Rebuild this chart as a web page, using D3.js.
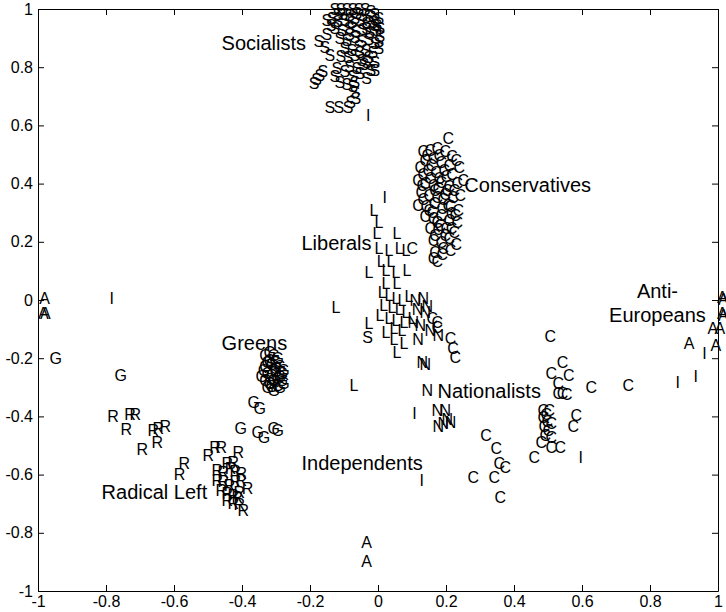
<!DOCTYPE html>
<html>
<head>
<meta charset="utf-8">
<script src="https://cdn.jsdelivr.net/npm/d3@7/dist/d3.min.js"></script>
<style>
  body { margin: 0; background: #fff; }
  svg { display: block; font-family: "Liberation Sans", Arial, sans-serif; }
  .axis path, .axis line { stroke: #000; }
  .axis text { font-size: 16px; fill: #000; font-family: "Liberation Sans", Arial, sans-serif; }
</style>
</head>
<body>
<svg width="726" height="612"></svg>
<script>
// ticks
var xTicks = [-1, -0.8, -0.6, -0.4, -0.2, 0, 0.2, 0.4, 0.6, 0.8, 1]
var xTickLabels = ["-1", "-0.8", "-0.6", "-0.4", "-0.2", "0", "0.2", "0.4", "0.6", "0.8", "1"]
var yTicks = [-1, -0.8, -0.6, -0.4, -0.2, 0, 0.2, 0.4, 0.6, 0.8, 1]
var yTickLabels = ["-1", "-0.8", "-0.6", "-0.4", "-0.2", "0", "0.2", "0.4", "0.6", "0.8", "1"]

// S = socialists
var socialists = [
  [-0.143,0.997],[-0.125,1.0],[-0.107,1.0],[-0.090,1.0],[-0.072,1.0],[-0.054,0.997],[-0.037,0.993],
  [-0.119,0.983],[-0.099,0.979],[-0.078,0.986],[-0.060,0.979],[-0.043,0.976],[-0.025,0.983],
  [-0.151,0.969],[-0.134,0.959],[-0.113,0.962],[-0.093,0.955],[-0.069,0.962],[-0.049,0.952],[-0.031,0.955],[-0.013,0.966],
  [-0.143,0.935],[-0.122,0.928],[-0.101,0.935],[-0.081,0.924],[-0.060,0.931],[-0.040,0.921],[-0.019,0.928],
  [-0.128,0.900],[-0.107,0.893],[-0.084,0.904],[-0.063,0.890],[-0.043,0.897],[-0.025,0.883],[-0.010,0.907],
  [-0.019,0.945],[-0.010,0.935],[-0.013,0.890],
  [-0.134,0.983],[-0.084,0.969],[-0.049,0.935],[-0.099,0.911],[-0.025,0.945],
  [-0.113,0.866],[-0.093,0.859],[-0.072,0.873],[-0.051,0.859],[-0.031,0.852],[-0.013,0.866],
  [-0.069,0.852],[-0.049,0.818],[-0.084,0.749],[-0.025,0.790],
  [-0.125,0.838],[-0.104,0.832],[-0.084,0.842],[-0.063,0.825],[-0.043,0.832],[-0.025,0.818],
  [-0.099,0.804],[-0.078,0.797],[-0.057,0.808],[-0.037,0.790],
  [-0.113,0.784],[-0.090,0.770],[-0.069,0.777],[-0.049,0.763],
  [-0.137,0.797],[-0.143,0.770],[-0.128,0.749],[-0.107,0.742],
  [-0.190,0.887],[-0.172,0.869],[-0.166,0.962],[-0.154,0.945],[-0.157,0.842],[-0.166,0.911],
  [-0.204,0.746],[-0.196,0.759],[-0.187,0.773],[-0.178,0.784],
  [-0.090,0.735],[-0.084,0.715],[-0.081,0.694],[-0.096,0.680],
  [-0.157,0.663],[-0.131,0.663],[-0.104,0.663],
  [-0.046,-0.127]
]

// C = conservatives
var conservatives = [
  [0.190,0.557],
  [0.116,0.509],[0.137,0.515],[0.157,0.522],[0.181,0.509],[0.201,0.495],
  [0.122,0.481],[0.146,0.488],[0.169,0.474],[0.193,0.464],[0.213,0.481],
  [0.107,0.454],[0.131,0.447],[0.154,0.440],[0.178,0.447],[0.201,0.433],[0.222,0.454],
  [0.101,0.412],[0.122,0.402],[0.146,0.395],[0.169,0.405],[0.193,0.392],[0.216,0.402],[0.234,0.412],
  [0.110,0.371],[0.134,0.361],[0.157,0.354],[0.181,0.364],[0.204,0.351],[0.225,0.361],
  [0.101,0.326],[0.125,0.320],[0.149,0.333],[0.172,0.316],[0.196,0.323],[0.219,0.309],
  [0.122,0.289],[0.146,0.282],[0.169,0.292],[0.193,0.275],[0.216,0.268],
  [0.137,0.247],[0.160,0.241],[0.184,0.247],[0.207,0.234],
  [0.146,0.206],[0.169,0.199],[0.193,0.213],[0.213,0.192],
  [0.151,0.165],[0.172,0.155],[0.196,0.172],[0.146,0.144],[0.157,0.131],[0.084,0.179],
  [0.140,0.464],[0.163,0.419],[0.187,0.378],[0.151,0.378],[0.175,0.344],[0.199,0.299],
  [0.157,0.268],[0.181,0.223],[0.116,0.430],[0.134,0.309],
  [0.113,0.395],[0.137,0.419],[0.160,0.385],[0.184,0.426],[0.207,0.378],[0.116,0.344],
  [0.143,0.302],[0.166,0.258],[0.190,0.326],[0.210,0.292],[0.151,0.223],[0.175,0.179],
  [0.199,0.247],[0.128,0.498],[0.163,0.498],
  [0.143,-0.062],[0.157,-0.076],[0.157,-0.093],[0.196,-0.131],[0.204,-0.165],[0.210,-0.196],
  [0.490,-0.124],[0.526,-0.216],[0.493,-0.251],[0.544,-0.258],[0.513,-0.285],[0.513,-0.320],
  [0.526,-0.320],[0.538,-0.326],[0.610,-0.299],[0.719,-0.292],
  [0.469,-0.378],[0.478,-0.392],[0.487,-0.378],[0.469,-0.405],[0.481,-0.416],[0.493,-0.423],
  [0.472,-0.436],[0.484,-0.447],[0.475,-0.464],[0.493,-0.471],
  [0.566,-0.395],[0.557,-0.436],[0.443,-0.540],[0.463,-0.488],[0.493,-0.505],[0.519,-0.505],
  [0.301,-0.464],[0.331,-0.509],[0.340,-0.560],[0.357,-0.574],[0.325,-0.608],[0.343,-0.677],[0.263,-0.608]
]

// L = liberals
var liberals = [
  [-0.025,0.309],[-0.010,0.268],[-0.016,0.230],[0.043,0.230],
  [-0.010,0.179],[0.019,0.172],[0.049,0.179],[0.069,0.172],
  [-0.004,0.131],[0.025,0.131],[-0.040,0.096],[0.010,0.103],[0.040,0.096],[0.072,0.103],
  [0.010,0.058],[0.043,0.058],[-0.137,-0.024],[-0.040,-0.079],[0.010,-0.113],
  [0.034,-0.137],[0.063,-0.148],[0.043,-0.179],[-0.084,-0.292],
  [-0.001,0.027],[0.019,0.017],[0.040,0.007],[0.057,0.0],[0.078,0.014],
  [0.004,-0.017],[0.028,-0.027],[0.049,-0.034],[0.069,-0.041],
  [-0.007,-0.052],[0.019,-0.062],[0.040,-0.069],[0.063,-0.076],[0.087,-0.062],
  [0.034,-0.096],[0.057,-0.103]
]

// N = nationalists
var nationalists = [
  [0.093,0.0],[0.116,0.007],[0.099,-0.034],[0.122,-0.041],[0.128,-0.021],
  [0.087,-0.076],[0.107,-0.086],[0.137,-0.103],[0.160,-0.120],[0.101,-0.137],
  [0.113,-0.213],[0.122,-0.223],[0.128,-0.309],
  [0.157,-0.378],[0.181,-0.378],[0.160,-0.436],[0.175,-0.423],[0.187,-0.412],[0.196,-0.419]
]

// G = greens
var greens = [
  [-0.966,-0.199],[-0.775,-0.258],
  [-0.349,-0.189],[-0.337,-0.179],[-0.325,-0.192],[-0.313,-0.199],
  [-0.343,-0.213],[-0.331,-0.223],[-0.319,-0.216],[-0.307,-0.227],
  [-0.354,-0.241],[-0.343,-0.251],[-0.331,-0.258],[-0.319,-0.247],[-0.307,-0.261],[-0.296,-0.241],
  [-0.349,-0.275],[-0.337,-0.285],[-0.325,-0.278],[-0.313,-0.292],[-0.301,-0.275],
  [-0.343,-0.302],[-0.325,-0.309],[-0.307,-0.302],[-0.360,-0.261],
  [-0.337,-0.206],[-0.319,-0.234],[-0.301,-0.251],[-0.349,-0.227],[-0.331,-0.296],
  [-0.313,-0.268],[-0.296,-0.285],
  [-0.384,-0.351],[-0.366,-0.371],[-0.422,-0.440],[-0.372,-0.454],[-0.354,-0.471],
  [-0.325,-0.440],[-0.313,-0.447]
]

// R = radical left
var radicalLeft = [
  [-0.796,-0.399],[-0.746,-0.392],[-0.731,-0.392],[-0.757,-0.443],
  [-0.678,-0.447],[-0.663,-0.440],[-0.643,-0.436],[-0.666,-0.488],[-0.710,-0.515],
  [-0.587,-0.560],[-0.601,-0.601],
  [-0.516,-0.533],[-0.496,-0.505],[-0.478,-0.505],[-0.428,-0.522],
  [-0.460,-0.560],[-0.443,-0.557],[-0.490,-0.584],[-0.472,-0.591],[-0.451,-0.577],
  [-0.437,-0.588],[-0.419,-0.595],[-0.490,-0.619],[-0.472,-0.625],[-0.454,-0.636],
  [-0.437,-0.625],[-0.419,-0.619],[-0.401,-0.646],[-0.478,-0.653],[-0.460,-0.663],
  [-0.443,-0.670],[-0.425,-0.660],[-0.460,-0.687],[-0.443,-0.698],[-0.425,-0.704],
  [-0.413,-0.722],[-0.431,-0.680]
]

// I = independents
var independents = [
  [-0.035,0.636],[0.013,0.351],[-0.790,0.007],[0.101,-0.388],[0.122,-0.619],
  [0.590,-0.540],[0.875,-0.282],[0.928,-0.261],[0.954,-0.182]
]

// A = anti-europeans
var antiEuropeans = [
  [-0.996,0.007],[-1.0,-0.045],[-0.994,-0.045],
  [-0.049,-0.832],[-0.049,-0.897],
  [0.899,-0.148],[0.978,-0.155],[0.969,-0.096],[0.990,-0.096],
  [0.997,0.010],[1.0,0.003],[0.997,-0.045],[1.0,-0.052]
]

var groups = [
  {letter: "S", pts: socialists},
  {letter: "C", pts: conservatives},
  {letter: "L", pts: liberals},
  {letter: "N", pts: nationalists},
  {letter: "G", pts: greens},
  {letter: "R", pts: radicalLeft},
  {letter: "I", pts: independents},
  {letter: "A", pts: antiEuropeans}
]

// group names
var labelText = ["Socialists", "Conservatives", "Liberals", "Greens", "Nationalists", "Independents", "Radical Left", "Anti-", "Europeans"]
var labelX = [-0.460, 0.254, -0.225, -0.460, 0.175, -0.225, -0.813, 0.822, 0.822]
var labelY = [0.883, 0.395, 0.196, -0.148, -0.313, -0.560, -0.660, 0.031, -0.052]
var labelAnchor = ["start", "start", "start", "start", "start", "start", "start", "middle", "middle"]

var svg = d3.select("svg")

var xScale = d3.scaleLinear().domain([-1, 1]).range([38, 718])
var yScale = d3.scaleLinear().domain([-1, 1]).range([591, 9])

svg.append("g")
  .attr("class", "axis")
  .attr("transform", "translate(0,591)")
  .call(d3.axisBottom(xScale).tickValues(xTicks).tickSizeInner(-6).tickSizeOuter(0).tickPadding(5)
    .tickFormat(function(d, i) { return xTickLabels[i] }))

svg.append("g")
  .attr("class", "axis")
  .attr("transform", "translate(38,0)")
  .call(d3.axisLeft(yScale).tickValues(yTicks).tickSizeInner(-6).tickSizeOuter(0).tickPadding(5)
    .tickFormat(function(d, i) { return yTickLabels[i] }))

svg.append("g")
  .attr("class", "axis")
  .attr("transform", "translate(0,9)")
  .call(d3.axisTop(xScale).tickValues(xTicks).tickSizeInner(-6).tickSizeOuter(0).tickFormat(""))

svg.append("g")
  .attr("class", "axis")
  .attr("transform", "translate(718,0)")
  .call(d3.axisRight(yScale).tickValues(yTicks).tickSizeInner(-6).tickSizeOuter(0).tickFormat(""))

// letter markers
groups.forEach(function(g) {
  svg.append("g")
    .selectAll("text")
    .data(g.pts)
    .enter().append("text")
    .attr("x", function(d) { return xScale(d[0]) })
    .attr("y", function(d) { return yScale(d[1]) })
    .attr("dy", "0.35em")
    .attr("font-size", 16)
    .attr("fill", "#000")
    .text(g.letter)
})

svg.append("g")
  .selectAll("text")
  .data(labelText)
  .enter().append("text")
  .attr("x", function(d, i) { return xScale(labelX[i]) })
  .attr("y", function(d, i) { return yScale(labelY[i]) })
  .attr("dy", "0.35em")
  .attr("text-anchor", function(d, i) { return labelAnchor[i] })
  .attr("font-size", 20)
  .attr("fill", "#000")
  .text(function(d) { return d })
</script>
</body>
</html>
